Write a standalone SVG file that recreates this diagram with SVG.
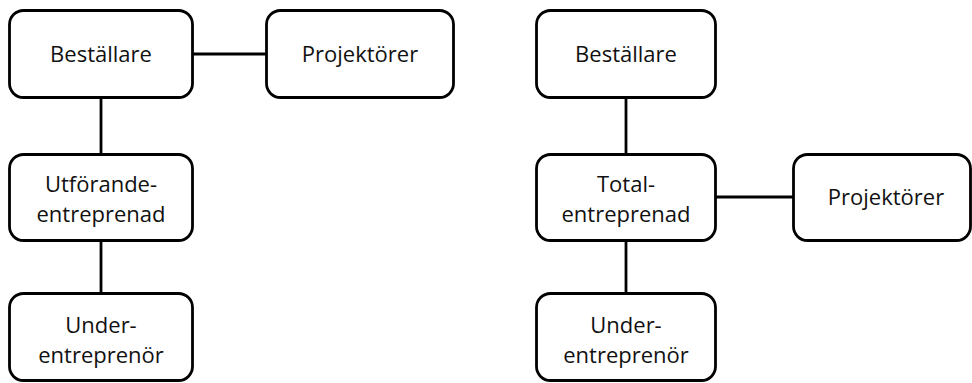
<svg xmlns="http://www.w3.org/2000/svg" width="972" height="383" viewBox="0 0 972 383">
  <style>
    .box { fill: #ffffff; stroke: #000000; stroke-width: 2.8; }
    .edge { stroke: #000000; stroke-width: 2.8; fill: none; }
    .lbl { font-family: "Open Sans", "Liberation Sans", sans-serif; font-size: 22px; fill: #111111; text-anchor: middle; }
  </style>
  <rect width="972" height="383" fill="#ffffff"/>

  <!-- connectors -->
  <g id="connectors">
    <line class="edge" x1="193" y1="54" x2="266" y2="54"/>
    <line class="edge" x1="101" y1="98" x2="101" y2="154"/>
    <line class="edge" x1="101" y1="241" x2="101" y2="293"/>
    <line class="edge" x1="626" y1="98" x2="626" y2="154"/>
    <line class="edge" x1="626" y1="241" x2="626" y2="293"/>
    <line class="edge" x1="716" y1="197" x2="793" y2="197"/>
  </g>

  <!-- left: Utförandeentreprenad -->
  <g id="bestallare-a">
    <rect class="box" x="9.5" y="10.5" width="183" height="87" rx="14"/>
    <text class="lbl" x="101" y="62">Beställare</text>
  </g>
  <g id="projektorer-a">
    <rect class="box" x="266.5" y="10.5" width="187" height="87" rx="14"/>
    <text class="lbl" x="360" y="62">Projektörer</text>
  </g>
  <g id="utforande">
    <rect class="box" x="9.5" y="154.5" width="183" height="86" rx="14"/>
    <text class="lbl" x="101" y="192">Utförande-</text>
    <text class="lbl" x="101" y="222">entreprenad</text>
  </g>
  <g id="under-a">
    <rect class="box" x="9.5" y="293.5" width="183" height="87" rx="14"/>
    <text class="lbl" x="101" y="333">Under-</text>
    <text class="lbl" x="101" y="363">entreprenör</text>
  </g>

  <!-- right: Totalentreprenad -->
  <g id="bestallare-b">
    <rect class="box" x="536.5" y="10.5" width="179" height="87" rx="14"/>
    <text class="lbl" x="626" y="62">Beställare</text>
  </g>
  <g id="total">
    <rect class="box" x="536.5" y="154.5" width="179" height="86" rx="14"/>
    <text class="lbl" x="626" y="192">Total-</text>
    <text class="lbl" x="626" y="222">entreprenad</text>
  </g>
  <g id="projektorer-b">
    <rect class="box" x="793.5" y="154.5" width="177" height="86" rx="14"/>
    <text class="lbl" x="886" y="205">Projektörer</text>
  </g>
  <g id="under-b">
    <rect class="box" x="536.5" y="293.5" width="179" height="87" rx="14"/>
    <text class="lbl" x="626" y="333">Under-</text>
    <text class="lbl" x="626" y="363">entreprenör</text>
  </g>
</svg>
